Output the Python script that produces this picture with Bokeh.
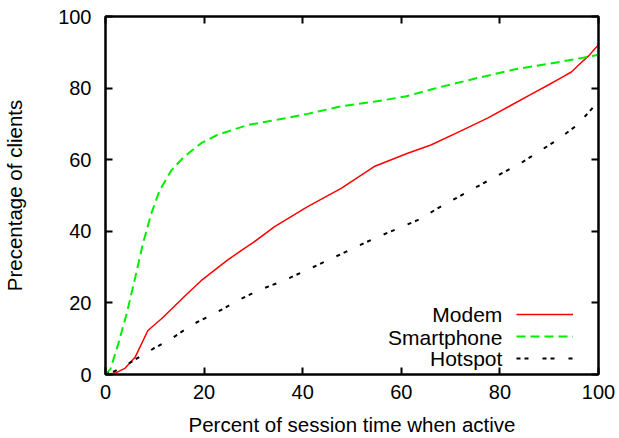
from bokeh.plotting import figure
from bokeh.models import Range1d, LinearAxis, FixedTicker, Legend, LegendItem, Label
from bokeh.embed import file_html
from bokeh.resources import INLINE

# ---- data ----
modem_x = [0, 2, 4, 6, 8.6, 11.3, 13.4, 16, 19.4, 22, 24.8, 27.5, 30, 34.3, 41, 47.8,
           54.5, 61.3, 66, 72, 77.5, 82, 86.2, 90, 92.3, 94.5, 96.4, 98, 99.4, 100]
modem_y = [0, 0.4, 1.8, 4.8, 12.3, 15.5, 18.3, 21.8, 26.2, 29, 32, 34.6, 36.9, 41.3, 46.9, 52,
           58.1, 61.8, 64.1, 68, 71.6, 75, 78.2, 81, 82.8, 84.5, 87, 89, 91.2, 92]

smart_x = [0, 1, 2.6, 4.3, 5.9, 7.6, 9.3, 11, 13.4, 16, 19.4, 22.8, 28.9, 35, 41, 47.8,
           55, 61, 66, 70, 76, 82.9, 90, 95, 98.4, 100]
smart_y = [0, 1.5, 8.6, 17, 26.3, 36.6, 45, 51.5, 57.1, 60.9, 64.6, 67, 69.7, 71.2, 72.8, 74.9,
           76.3, 77.7, 79.6, 81, 83, 85.2, 86.8, 88, 88.9, 89.3]

hot_x = [0, 2, 4.6, 9.7, 13.7, 17.7, 22.1, 26.9, 31, 36.3, 45.1, 54.5, 63.3, 68, 75.4,
         84.2, 91.6, 95.7, 99.4, 100]
hot_y = [0, 1, 3, 7.2, 10.3, 14, 17, 20.7, 23.5, 26.3, 31.9, 38, 43.1, 46.9, 52.5,
         59, 65.5, 69.7, 75.4, 76]

series_names = ["Modem", "Smartphone", "Hotspot"]
tick_values = [0, 20, 40, 60, 80, 100]

FONT = "Liberation Sans"
TICK_FS = "20px"
LABEL_FS = "20.5px"

p = figure(width=619, height=438, output_backend="svg", toolbar_location=None,
           x_range=Range1d(0, 100), y_range=Range1d(0, 100),
           min_border_left=104, min_border_right=21, min_border_top=16, min_border_bottom=64)
p.grid.visible = False
p.outline_line_color = "black"
p.outline_line_width = 2
p.background_fill_color = "white"
p.border_fill_color = "white"

bottom_axis = p.below[0]
left_axis = p.left[0]
bottom_axis.axis_label = "Percent of session time when active"
left_axis.axis_label = "Precentage of clients"

top_axis = LinearAxis()
right_axis = LinearAxis()
p.add_layout(top_axis, "above")
p.add_layout(right_axis, "right")

for ax in [bottom_axis, left_axis, top_axis, right_axis]:
    ax.ticker = FixedTicker(ticks=tick_values)
    ax.major_tick_in = 7
    ax.major_tick_out = 0
    ax.minor_tick_line_color = None
    ax.axis_line_width = 2
    ax.major_tick_line_width = 2
    ax.major_label_text_font = FONT
    ax.major_label_text_font_size = TICK_FS
    ax.major_label_text_color = "black"
    ax.axis_label_text_font = FONT
    ax.axis_label_text_font_size = LABEL_FS
    ax.axis_label_text_font_style = "normal"
    ax.axis_label_text_color = "black"

for ax in [top_axis, right_axis]:
    ax.major_label_overrides = {t: "" for t in tick_values}
    ax.major_label_text_font_size = "1px"
    ax.major_label_text_color = None
    ax.major_label_standoff = 0

bottom_axis.major_label_standoff = 10
bottom_axis.axis_label_standoff = 11
left_axis.major_label_standoff = 14
left_axis.axis_label_standoff = 29

r1 = p.line(modem_x, modem_y, line_color="#ff0000", line_width=1.5)
r2 = p.line(smart_x, smart_y, line_color="#00ee00", line_width=2, line_dash="9 5")
r3 = p.line(hot_x, hot_y, line_color="black", line_width=2, line_dash="4 4 4 14")

legend = Legend(items=[LegendItem(label=" ", renderers=[r]) for r in (r1, r2, r3)],
                location=(411, 5), padding=0, margin=0, spacing=0,
                glyph_height=22, glyph_width=57, label_standoff=0,
                label_width=0, label_height=0, label_text_font_size="1px",
                border_line_color=None, background_fill_alpha=0)
p.add_layout(legend)

label_rows = [16.68, 10.42, 4.39]
for name, yv in zip(series_names, label_rows):
    p.add_layout(Label(x=80.5, y=yv, text=name, text_align="right", text_baseline="middle",
                       text_font=FONT, text_font_size="21px", text_color="black"))

open("out.html", "w").write(file_html(p, INLINE))
